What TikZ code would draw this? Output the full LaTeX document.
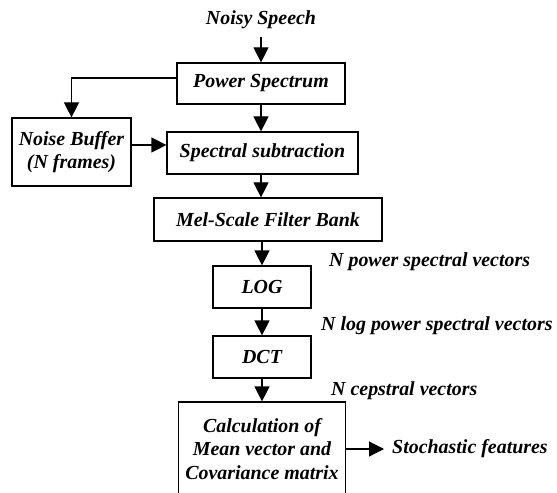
\documentclass[tikz,border=0pt]{standalone}
\usepackage{fontspec}
\setmainfont{Liberation Serif}
\usetikzlibrary{arrows.meta}
\begin{document}
\begin{tikzpicture}[x=1bp,y=-1bp,
  every node/.style={font=\fontsize{20}{23.5}\selectfont\bfseries\itshape},
  blk/.style={draw,line width=1.2bp,inner sep=0pt,align=center},
  lbl/.style={inner sep=0pt,anchor=west},
  arr/.style={line width=1.2bp,-{Triangle[length=15bp,width=15bp]}}]
\useasboundingbox (0,0) rectangle (557,493);
\clip (0,0) rectangle (557,493);
\node[inner sep=0pt] (noisy) at (261,20) {Noisy Speech};
\node[blk,minimum width=168bp,minimum height=41bp] (ps) at (261,83.5) {Power Spectrum};
\node[blk,minimum width=119bp,minimum height=68bp] (nb) at (71.5,152) {Noise Buffer\\(N frames)};
\node[blk,minimum width=191bp,minimum height=42bp] (ss) at (262.5,153) {Spectral subtraction};
\node[blk,minimum width=228bp,minimum height=43bp] (mel) at (268,219.5) {Mel-Scale Filter Bank};
\node[blk,minimum width=98bp,minimum height=42bp] (log) at (262,287) {LOG};
\node[blk,minimum width=98bp,minimum height=42bp] (dct) at (262,357) {DCT};
\node[blk,minimum width=167bp,minimum height=94bp] (calc) at (262,449) {Calculation of\\Mean vector and\\Covariance matrix};
\node[lbl] (l1) at (329,262) {N power spectral vectors};
\node[lbl] (l2) at (321,326) {N log power spectral vectors};
\node[lbl] (l3) at (331,391) {N cepstral vectors};
\node[lbl,inner xsep=8bp] (st) at (384,449) {Stochastic features};
\draw[arr] ([yshift=-8bp]noisy.south) -- (ps.north);
\draw[arr] ([yshift=5.5bp]ps.west) -| (nb.north);
\draw[arr] ([yshift=7bp]nb.east) -- ([yshift=7bp]nb.east -| ss.west);
\draw[arr] (ps.south) -- (ps.south |- ss.north);
\draw[arr] (ss.south -| ps.south) -- (ps.south |- mel.north);
\draw[arr] (mel.south -| log.north) -- (log.north);
\draw[arr] (log.south) -- (dct.north);
\draw[arr] (dct.south) -- (calc.north);
\draw[arr] (calc.east) -- (st.west);
\end{tikzpicture}
\end{document}
